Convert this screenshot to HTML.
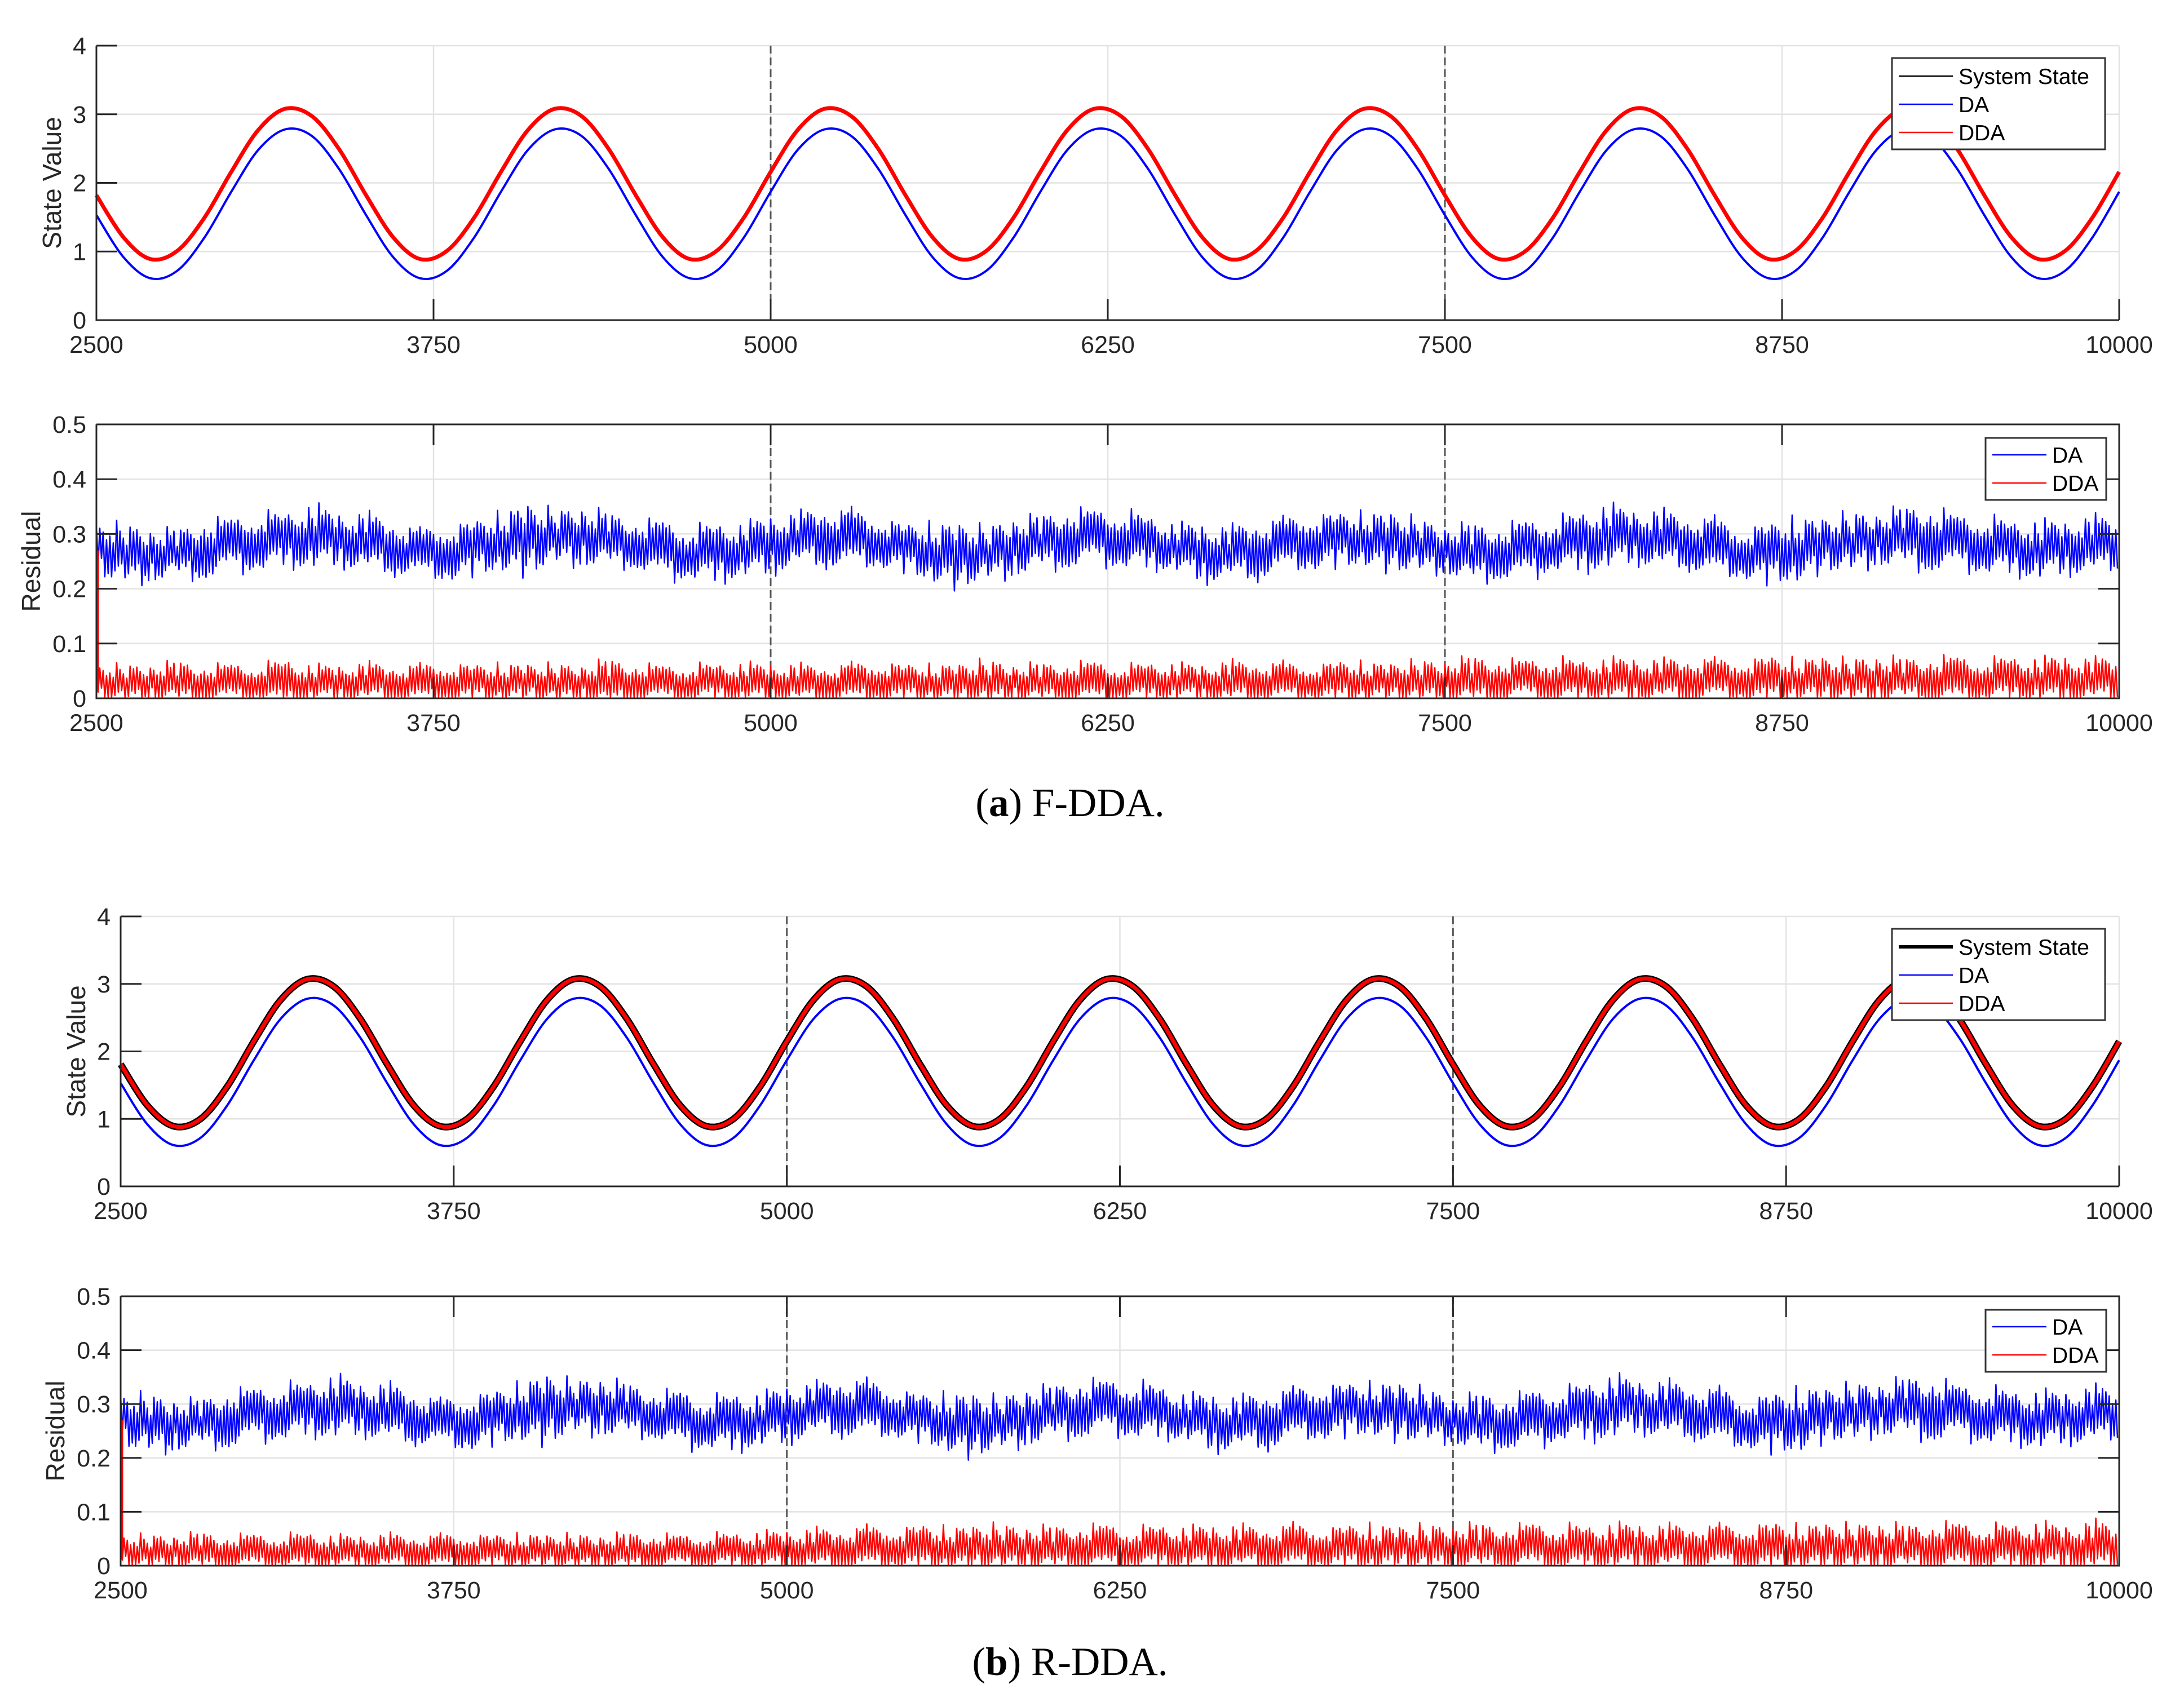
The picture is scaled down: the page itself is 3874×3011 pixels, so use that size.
<!DOCTYPE html>
<html><head><meta charset="utf-8"><title>F-DDA / R-DDA</title>
<style>html,body{margin:0;padding:0;background:#fff}svg{display:block}</style></head>
<body>
<svg id="fig" xmlns="http://www.w3.org/2000/svg" width="3874" height="3011" viewBox="0 0 3874 3011">
<rect width="3874" height="3011" fill="#fff"/>
<text x="1898" y="1448" text-anchor="middle" font-family="Liberation Serif, serif" font-size="71" fill="#000">(<tspan font-weight="bold">a</tspan>) F-DDA.</text>
<text x="1898" y="2972" text-anchor="middle" font-family="Liberation Serif, serif" font-size="71" fill="#000">(<tspan font-weight="bold">b</tspan>) R-DDA.</text>
</svg>
<script>
// ---- data (sampled every 100 time steps, 2500..10000) ----
const xStart = 2500, xStep = 100;
const xTicks = [2500, 3750, 5000, 6250, 7500, 8750, 10000];
const xTickLabels = ["2500","3750","5000","6250","7500","8750","10000"];
const stateTicks = [0, 1, 2, 3, 4];
const stateTickLabels = ["0","1","2","3","4"];
const resTicks = [0, 0.1, 0.2, 0.3, 0.4, 0.5];
const resTickLabels = ["0","0.1","0.2","0.3","0.4","0.5"];
const markerLines = [5000, 7500];

const stateA = [1.81,1.20,0.89,1.00,1.48,2.15,2.76,3.07,2.96,2.48,1.81,1.20,0.89,1.00,1.48,2.15,2.76,3.07,2.96,2.48,1.81,1.20,0.89,1.00,1.48,2.15,2.76,3.07,2.96,2.48,1.81,1.20,0.89,1.00,1.48,2.15,2.76,3.07,2.96,2.48,1.81,1.20,0.89,1.00,1.48,2.15,2.76,3.07,2.96,2.48,1.81,1.20,0.89,1.00,1.48,2.15,2.76,3.07,2.96,2.48,1.81,1.20,0.89,1.00,1.48,2.15,2.76,3.07,2.96,2.48,1.81,1.20,0.89,1.00,1.48,2.15];
const daA = [1.53,0.92,0.61,0.72,1.20,1.87,2.48,2.78,2.68,2.20,1.53,0.92,0.61,0.72,1.20,1.87,2.48,2.78,2.68,2.20,1.53,0.92,0.61,0.72,1.20,1.87,2.48,2.78,2.68,2.20,1.53,0.92,0.61,0.72,1.20,1.87,2.48,2.78,2.68,2.20,1.53,0.92,0.61,0.72,1.20,1.87,2.48,2.78,2.68,2.20,1.53,0.92,0.61,0.72,1.20,1.87,2.48,2.78,2.68,2.20,1.53,0.92,0.61,0.72,1.20,1.87,2.48,2.78,2.68,2.20,1.53,0.92,0.61,0.72,1.20,1.87];
const ddaA = [1.82,1.21,0.89,1.01,1.49,2.16,2.77,3.08,2.97,2.49,1.82,1.21,0.89,1.01,1.49,2.16,2.77,3.08,2.97,2.49,1.82,1.21,0.89,1.01,1.49,2.16,2.77,3.08,2.97,2.49,1.82,1.21,0.89,1.01,1.49,2.16,2.77,3.08,2.97,2.49,1.82,1.21,0.89,1.01,1.49,2.16,2.77,3.08,2.97,2.49,1.82,1.21,0.89,1.01,1.49,2.16,2.77,3.08,2.97,2.49,1.82,1.21,0.89,1.01,1.49,2.16,2.77,3.08,2.97,2.49,1.82,1.21,0.89,1.01,1.49,2.16];
const stateB = stateA.slice();
const daB = daA.slice();
const ddaB = [1.81,1.20,0.89,1.00,1.48,2.15,2.76,3.07,2.96,2.48,1.81,1.20,0.89,1.00,1.48,2.15,2.76,3.07,2.96,2.48,1.81,1.20,0.89,1.00,1.48,2.15,2.76,3.07,2.96,2.48,1.81,1.20,0.89,1.00,1.48,2.15,2.76,3.07,2.96,2.48,1.81,1.20,0.89,1.00,1.48,2.15,2.76,3.07,2.96,2.48,1.81,1.20,0.89,1.00,1.48,2.15,2.76,3.07,2.96,2.48,1.81,1.20,0.89,1.00,1.48,2.15,2.76,3.07,2.96,2.48,1.81,1.20,0.89,1.00,1.48,2.15];

// residual levels (mid) and noise half-width (spread) per 100-step bucket
const daResMidA = [.27,.265,.26,.265,.27,.28,.285,.29,.295,.29,.285,.275,.265,.265,.275,.285,.29,.295,.295,.29,.28,.27,.265,.265,.27,.28,.29,.295,.29,.285,.275,.265,.26,.265,.275,.285,.29,.295,.29,.285,.275,.265,.265,.27,.28,.285,.29,.29,.285,.28,.27,.265,.265,.27,.28,.285,.295,.295,.29,.285,.275,.265,.265,.27,.28,.285,.29,.295,.29,.285,.28,.275,.27,.275,.28,.28];
const daResSpreadA = [.045,.05,.045,.04,.05,.045,.05,.045,.055,.045,.05,.045,.04,.05,.045,.05,.06,.045,.05,.045,.04,.05,.045,.05,.045,.05,.045,.05,.05,.045,.04,.05,.055,.045,.05,.045,.05,.045,.05,.045,.04,.05,.045,.05,.045,.05,.045,.045,.05,.045,.04,.05,.045,.05,.045,.05,.055,.045,.05,.045,.05,.045,.05,.055,.045,.05,.045,.05,.055,.045,.05,.045,.05,.045,.05,.045];
const ddaResMidA = [.028,.027,.028,.03,.027,.028,.029,.028,.027,.028,.03,.028,.027,.028,.029,.028,.03,.027,.028,.028,.029,.027,.028,.03,.028,.029,.028,.027,.028,.03,.029,.028,.028,.03,.029,.028,.03,.029,.028,.03,.03,.029,.03,.031,.03,.029,.03,.031,.03,.031,.032,.033,.032,.034,.033,.032,.034,.033,.034,.033,.034,.033,.034,.035,.034,.033,.034,.035,.034,.033,.034,.035,.034,.033,.034,.034];
const ddaResSpreadA = [.03,.032,.03,.035,.03,.032,.03,.04,.031,.03,.033,.03,.032,.035,.03,.032,.03,.033,.03,.04,.031,.03,.032,.03,.034,.03,.032,.03,.033,.035,.031,.03,.032,.038,.03,.033,.031,.035,.03,.032,.031,.03,.036,.032,.033,.03,.035,.032,.031,.036,.033,.04,.035,.033,.04,.034,.036,.038,.034,.04,.035,.036,.04,.034,.038,.036,.04,.035,.037,.04,.035,.038,.036,.042,.036,.04];
const daResMidB = daResMidA.slice();
const daResSpreadB = daResSpreadA.slice();
const ddaResMidB = [.026,.025,.026,.027,.025,.026,.027,.026,.025,.026,.027,.026,.025,.026,.027,.026,.027,.025,.026,.026,.027,.026,.027,.028,.028,.029,.03,.031,.032,.033,.033,.032,.033,.034,.033,.032,.034,.033,.032,.034,.033,.032,.034,.033,.034,.033,.034,.033,.034,.033,.034,.035,.034,.035,.034,.033,.035,.034,.035,.034,.035,.034,.035,.034,.035,.034,.035,.034,.035,.034,.035,.034,.035,.034,.035,.034];
const ddaResSpreadB = [.028,.03,.028,.032,.028,.03,.028,.033,.029,.028,.03,.028,.03,.032,.028,.03,.028,.031,.028,.032,.029,.028,.03,.03,.032,.034,.036,.035,.038,.036,.04,.036,.038,.04,.036,.038,.036,.04,.036,.038,.036,.04,.038,.036,.04,.036,.038,.04,.036,.04,.038,.04,.036,.04,.04,.038,.04,.04,.038,.04,.038,.04,.042,.038,.04,.04,.042,.038,.04,.042,.038,.04,.042,.038,.045,.04];
const noisePattern = [1,0.55,0.9,0.3,0.75,1,0.45,0.85,0.6,0.95,0.35,0.7,1.2,0.5,0.8,0.4];

// ---- drawing ----
const NS = "http://www.w3.org/2000/svg";
const svg = document.getElementById("fig");
function mk(tag, attrs, parent){
  const e = document.createElementNS(NS, tag);
  for (const k in attrs) e.setAttribute(k, attrs[k]);
  (parent||svg).appendChild(e); return e;
}
const FONT = "Liberation Sans, Arial, sans-serif";

function panel(cfg){
  const g = mk("g", {});
  
  
  const sx = v => cfg.L + (v - 2500) / 7500 * (cfg.R - cfg.L);
  const sy = v => cfg.B - (v - cfg.ymin) / (cfg.ymax - cfg.ymin) * (cfg.B - cfg.T);
  cfg.yt.forEach(v => { const l = mk("line", {x1:cfg.L, x2:cfg.R, y1:sy(v), y2:sy(v), stroke:"#e3e3e3", "stroke-width":2.5}, g);
      });
  xTicks.forEach(v => { const l = mk("line", {x1:sx(v), x2:sx(v), y1:cfg.T, y2:cfg.B, stroke:"#e3e3e3", "stroke-width":2.5}, g);
      });
  markerLines.forEach(v => { const l = mk("line", {x1:sx(v), x2:sx(v), y1:cfg.T, y2:cfg.B, stroke:"#555", "stroke-width":3, "stroke-dasharray":"14 7"}, g);
      });
  cfg.draw(g, sx, sy);
  const ax = mk("path", {d:`M${cfg.L},${cfg.T}V${cfg.B}H${cfg.R}` + (cfg.box ? `V${cfg.T}H${cfg.L}` : ""), fill:"none", stroke:"#262626", "stroke-width":3}, g);
   
  const tl = 37;
  cfg.yt.forEach((v,i) => {
    const y = sy(v);
    mk("line", {x1:cfg.L, x2:cfg.L+tl, y1:y, y2:y, stroke:"#262626", "stroke-width":3}, g);
    if (cfg.box) mk("line", {x1:cfg.R, x2:cfg.R-tl, y1:y, y2:y, stroke:"#262626", "stroke-width":3}, g);
    const t = mk("text", {x:cfg.L-18, y:y+15, "text-anchor":"end", "font-family":FONT, "font-size":43, fill:"#262626"}, g);
    t.textContent = cfg.ytl[i];
     
  });
  xTicks.forEach((v,i) => {
    const x = sx(v);
    mk("line", {x1:x, x2:x, y1:cfg.B, y2:cfg.B-tl, stroke:"#262626", "stroke-width":3}, g);
    if (cfg.box) mk("line", {x1:x, x2:x, y1:cfg.T, y2:cfg.T+tl, stroke:"#262626", "stroke-width":3}, g);
    const t = mk("text", {x:x, y:cfg.B+58, "text-anchor":"middle", "font-family":FONT, "font-size":43, fill:"#262626"}, g);
    t.textContent = xTickLabels[i];
     
  });
  const cy = (cfg.T+cfg.B)/2;
  const yt = mk("text", {x:cfg.titleX, y:cy, transform:`rotate(-90 ${cfg.titleX} ${cy})`, "text-anchor":"middle", "dominant-baseline":"central", "font-family":FONT, "font-size":46, fill:"#262626"}, g);
  yt.textContent = cfg.title;
   
  const lg = cfg.legend;
  const lgG = mk("g", {}, g);
   
  mk("rect", {x:lg.x, y:lg.y, width:lg.w, height:lg.h, fill:"#fff", stroke:"#333", "stroke-width":3}, lgG);
  lg.items.forEach((it, i) => {
    const y = lg.y + lg.first + i*50;
    const e = mk("g", {}, lgG);
    
    
    mk("line", {x1:lg.x+12, x2:lg.x+108, y1:y, y2:y, stroke:it.c, "stroke-width":it.w}, e);
    const t = mk("text", {x:lg.x+118, y:y+14, "font-family":FONT, "font-size":39, fill:"#000"}, e);
    t.textContent = it.label;
  });
}

function smoothPath(arr, sx, sy){
  const p = arr.map((v,i) => [sx(xStart + i*xStep), sy(v)]);
  let d = `M${p[0][0].toFixed(1)},${p[0][1].toFixed(1)}`;
  for (let i=0;i<p.length-1;i++){
    const p0 = p[Math.max(0,i-1)], p1 = p[i], p2 = p[i+1], p3 = p[Math.min(p.length-1,i+2)];
    const c1 = [p1[0]+(p2[0]-p0[0])/6, p1[1]+(p2[1]-p0[1])/6];
    const c2 = [p2[0]-(p3[0]-p1[0])/6, p2[1]-(p3[1]-p1[1])/6];
    d += `C${c1[0].toFixed(1)},${c1[1].toFixed(1)} ${c2[0].toFixed(1)},${c2[1].toFixed(1)} ${p2[0].toFixed(1)},${p2[1].toFixed(1)}`;
  }
  return d;
}
function noisePath(mid, spread, sx, sy){
  let d = ""; const n = noisePattern.length;
  for (let i=0;i<mid.length-1;i++){
    for (let j=0;j<n;j++){
      const f = j/n;
      const m = mid[i]*(1-f) + mid[i+1]*f;
      const s = spread[i]*(1-f) + spread[i+1]*f;
      const sign = (j%2===0) ? 1 : -1;
      const v = Math.max(0.002, m + sign*s*noisePattern[(j+i)%n]);
      d += (d?"L":"M") + sx(xStart + (i+f)*xStep).toFixed(1) + "," + sy(v).toFixed(1);
    }
  }
  return d;
}
function addPath(g, d, color, w, name){
  const p = mk("path", {d:d, fill:"none", stroke:color, "stroke-width":w, "stroke-linejoin":"round"}, g);
  
  
}

function statePanel(name, L, T, B, st, da, dda, thick){
  panel({name, L, R:3759, T, B, ymin:0, ymax:4, yt:stateTicks, ytl:stateTickLabels, box:false,
    title:"State Value", titleX:L-79,
    legend:{x:3356, y:T+22, w:378, h:162, first:32, items:[
      {label:"System State", c:"#000", w:thick?6:2.5},{label:"DA", c:"#0000ff", w:2.5},{label:"DDA", c:"#ff0000", w:2.5}]},
    draw:(g, sx, sy) => {
      addPath(g, smoothPath(st, sx, sy), "#000", thick?12:3, "system-state-line");
      addPath(g, smoothPath(da, sx, sy), "#0000ff", 4, "da-line");
      addPath(g, smoothPath(dda, sx, sy), "#ff0000", 7, "dda-line");
    }});
}
function resPanel(name, L, T, B, dm, ds, rm, rs){
  panel({name, L, R:3759, T, B, ymin:0, ymax:0.5, yt:resTicks, ytl:resTickLabels, box:true,
    title:"Residual", titleX:L-116,
    legend:{x:3522, y:T+24, w:214, h:110, first:30, items:[
      {label:"DA", c:"#0000ff", w:2.5},{label:"DDA", c:"#ff0000", w:2.5}]},
    draw:(g, sx, sy) => {
      addPath(g, noisePath(dm, ds, sx, sy), "#0000ff", 2.5, "da-residual-line");
      addPath(g, `M${sx(2500)+3},${sy(0.27)}V${sy(0.02)}`, "#ff0000", 3, "dda-residual-initial-spike");
      addPath(g, noisePath(rm, rs, sx, sy), "#ff0000", 2.5, "dda-residual-line");
    }});
}

statePanel("state-panel-a", 171, 81, 568, stateA, daA, ddaA, false);
resPanel("residual-panel-a", 171, 753, 1239, daResMidA, daResSpreadA, ddaResMidA, ddaResSpreadA);
statePanel("state-panel-b", 214, 1626, 2105, stateB, daB, ddaB, true);
resPanel("residual-panel-b", 214, 2300, 2778, daResMidB, daResSpreadB, ddaResMidB, ddaResSpreadB);
</script>
</body></html>
